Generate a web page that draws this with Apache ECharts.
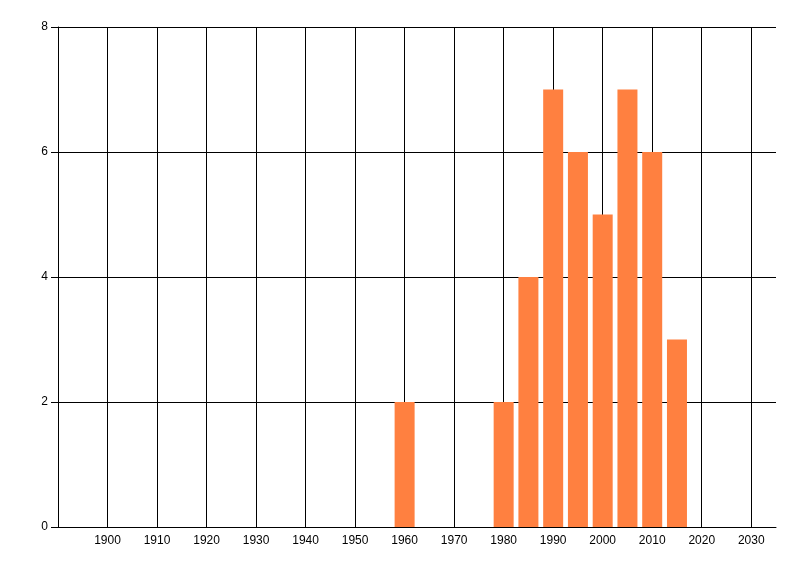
<!DOCTYPE html>
<html>
<head>
<meta charset="utf-8">
<script src="https://cdn.jsdelivr.net/npm/echarts@6/dist/echarts.min.js"></script>
<style>html,body{margin:0;padding:0;background:#fff}#c{width:800px;height:576px}</style>
</head>
<body>
<div id="c"></div>
<script>
const years = [1960, 1980, 1985, 1990, 1995, 2000, 2005, 2010, 2015];
const counts = [2, 2, 4, 7, 6, 5, 7, 6, 3];
const xMin = 1890, xMax = 2035, xStep = 10;
const yMin = 0, yMax = 8, yStep = 2;

const chart = echarts.init(document.getElementById('c'), null, {renderer: 'canvas'});
const font = 'Liberation Sans, Arial, sans-serif';
chart.setOption({
  animation: false,
  backgroundColor: '#fff',
  grid: {left: 58, top: 27, right: 24, bottom: 49, containLabel: false},
  xAxis: {
    type: 'value', min: xMin, max: xMax, interval: xStep,
    axisLine: {show: true, lineStyle: {color: '#000', width: 1}},
    axisTick: {show: false},
    axisLabel: {color: '#000', fontFamily: font, fontSize: 12, margin: 8, showMinLabel: false, showMaxLabel: false,
      formatter: v => String(v)},
    splitLine: {show: true, showMinLine: false, showMaxLine: false, lineStyle: {color: '#000', width: 1}}
  },
  yAxis: {
    type: 'value', min: yMin, max: yMax, interval: yStep,
    axisLine: {show: true, lineStyle: {color: '#000', width: 1}},
    axisTick: {show: true, length: 7, lineStyle: {color: '#000'}},
    axisLabel: {color: '#000', fontFamily: font, fontSize: 12, margin: 10, formatter: v => String(v)},
    splitLine: {show: true, lineStyle: {color: '#000', width: 1}}
  },
  series: [{
    type: 'bar',
    data: years.map((y, i) => [y, counts[i]]),
    barWidth: 20,
    itemStyle: {color: '#FF8040', borderWidth: 0},
    z: 5
  }]
});
</script>
</body>
</html>
